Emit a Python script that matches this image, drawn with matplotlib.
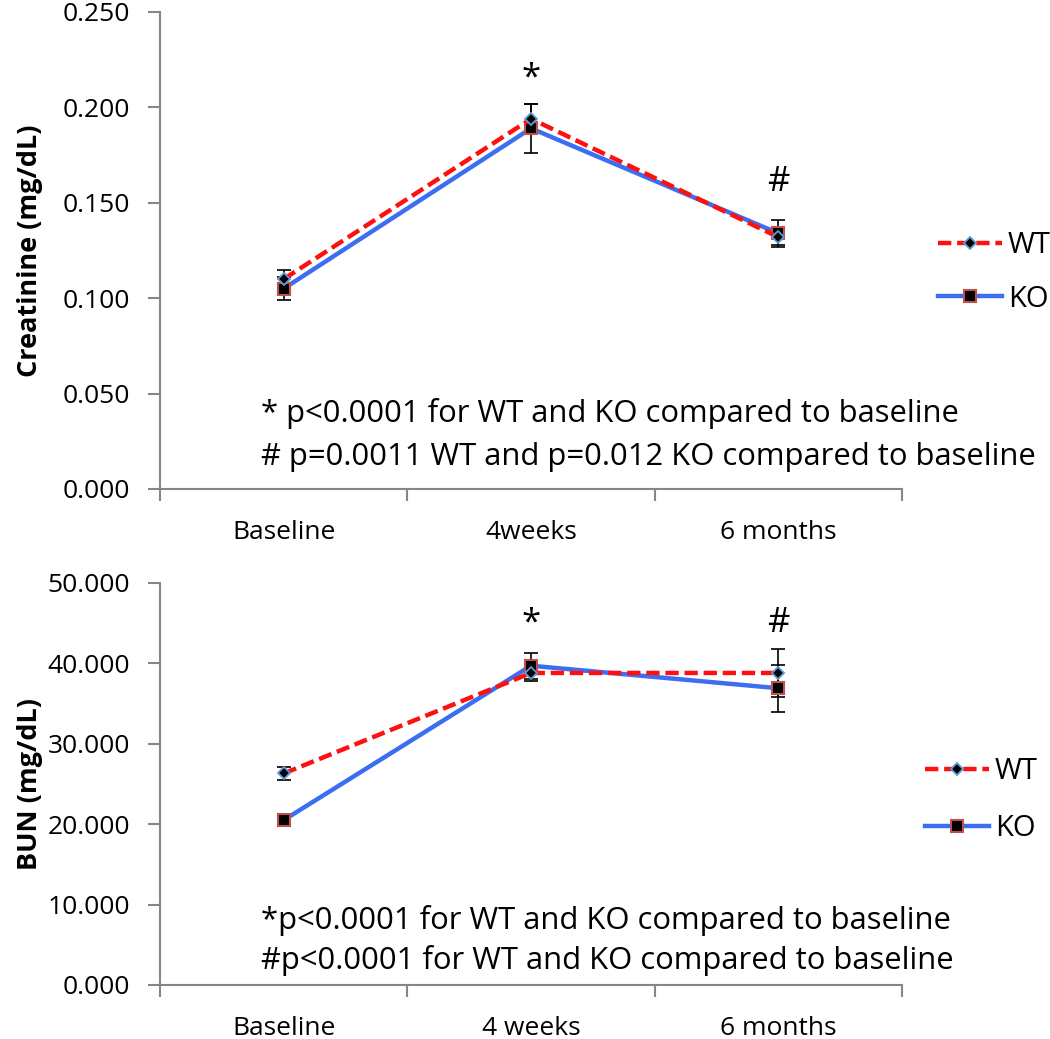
import matplotlib.pyplot as plt

plt.rcParams['font.family'] = ['Open Sans', 'DejaVu Sans']

# data
top_cats = ['Baseline', '4weeks', '6 months']
bot_cats = ['Baseline', '4 weeks', '6 months']

crea_wt = [0.110, 0.194, 0.132]
crea_wt_err = [0.005, 0.008, 0.004]
crea_ko = [0.105, 0.189, 0.134]
crea_ko_err = [0.006, 0.013, 0.007]

bun_wt = [26.3, 38.8, 38.8]
bun_wt_err = [0.8, 1.0, 3.0]
bun_ko = [20.5, 39.7, 36.9]
bun_ko_err = [0.3, 1.6, 2.9]

WT_RED = '#ff1010'
KO_BLUE = '#3c6ef2'

fig = plt.figure(figsize=(10.5, 10.39), dpi=100)
ax1 = fig.add_axes([0.1524, 0.5294, 0.7067, 0.4591])
ax2 = fig.add_axes([0.1524, 0.0520, 0.7067, 0.3870])


def draw(ax, cats, wt, wt_err, ko, ko_err, ymax, step, ylabel):
    x = list(range(len(cats)))
    ax.errorbar(x, wt, yerr=wt_err, fmt='none', ecolor='black', elinewidth=1.2,
                capsize=5, capthick=1.2, zorder=2)
    ax.errorbar(x, ko, yerr=ko_err, fmt='none', ecolor='black', elinewidth=1.2,
                capsize=5, capthick=1.2, zorder=2)
    ax.plot(x, wt, color=WT_RED, ls=(0, (3, 1.3)), lw=3.2, marker='D', ms=6.5,
            mfc='black', mec='#5b9bd5', mew=1.3, label='WT', zorder=4)
    ax.plot(x, ko, color=KO_BLUE, ls='-', lw=3.2, marker='s', ms=9,
            mfc='black', mec='#c0504d', mew=1.5, label='KO', zorder=3)
    ax.set_xlim(-0.5, len(cats) - 0.5)
    ax.set_ylim(0, ymax)
    yt = [i * step for i in range(int(round(ymax / step)) + 1)]
    ax.set_yticks(yt)
    ax.set_yticklabels(['{:.3f}'.format(v) for v in yt], fontsize=19)
    ax.set_xticks([i - 0.5 for i in range(len(cats) + 1)])
    ax.set_xticklabels([])
    ax.set_xticks(x, minor=True)
    ax.set_xticklabels(cats, minor=True, fontsize=19)
    ax.tick_params(axis='x', which='major', length=8.5, color='#868686', width=1.5)
    ax.tick_params(axis='x', which='minor', length=0, pad=22)
    ax.tick_params(axis='y', length=8.5, color='#868686', width=1.5, pad=13)
    for s in ['top', 'right']:
        ax.spines[s].set_visible(False)
    for s in ['left', 'bottom']:
        ax.spines[s].set_color('#868686')
        ax.spines[s].set_linewidth(1.5)
    ax.set_ylabel(ylabel, fontsize=19.5, fontweight='bold')
    ax.yaxis.set_label_coords(-0.158, 0.5)


draw(ax1, top_cats, crea_wt, crea_wt_err, crea_ko, crea_ko_err,
     0.25, 0.05, 'Creatinine (mg/dL)')
draw(ax2, bot_cats, bun_wt, bun_wt_err, bun_ko, bun_ko_err,
     50, 10, 'BUN (mg/dL)')

# significance marks
ax1.text(1, 0.215, '*', ha='center', va='center', fontsize=25)
ax1.text(2, 0.161, '#', ha='center', va='center', fontsize=25)
ax2.text(1, 45.0, '*', ha='center', va='center', fontsize=25)
ax2.text(2, 45.0, '#', ha='center', va='center', fontsize=25)

# p-value notes
fig.text(0.249, 0.6025, '* p<0.0001 for WT and KO compared to baseline',
         fontsize=22.3, va='center', ha='left')
fig.text(0.249, 0.560, '# p=0.0011 WT and p=0.012 KO compared to baseline',
         fontsize=22.3, va='center', ha='left')
fig.text(0.249, 0.1136, '*p<0.0001 for WT and KO compared to baseline',
         fontsize=22.3, va='center', ha='left')
fig.text(0.249, 0.076, '#p<0.0001 for WT and KO compared to baseline',
         fontsize=22.3, va='center', ha='left')

fig.legend(*ax1.get_legend_handles_labels(), loc='center left',
           bbox_to_anchor=(0.893, 0.738), frameon=False, fontsize=21,
           handlelength=2.2, handletextpad=0.2, labelspacing=0.85,
           borderpad=0, borderaxespad=0)
fig.legend(*ax2.get_legend_handles_labels(), loc='center left',
           bbox_to_anchor=(0.881, 0.230), frameon=False, fontsize=21,
           handlelength=2.2, handletextpad=0.2, labelspacing=0.95,
           borderpad=0, borderaxespad=0)

fig.savefig('out.png', dpi=100, facecolor='white')
